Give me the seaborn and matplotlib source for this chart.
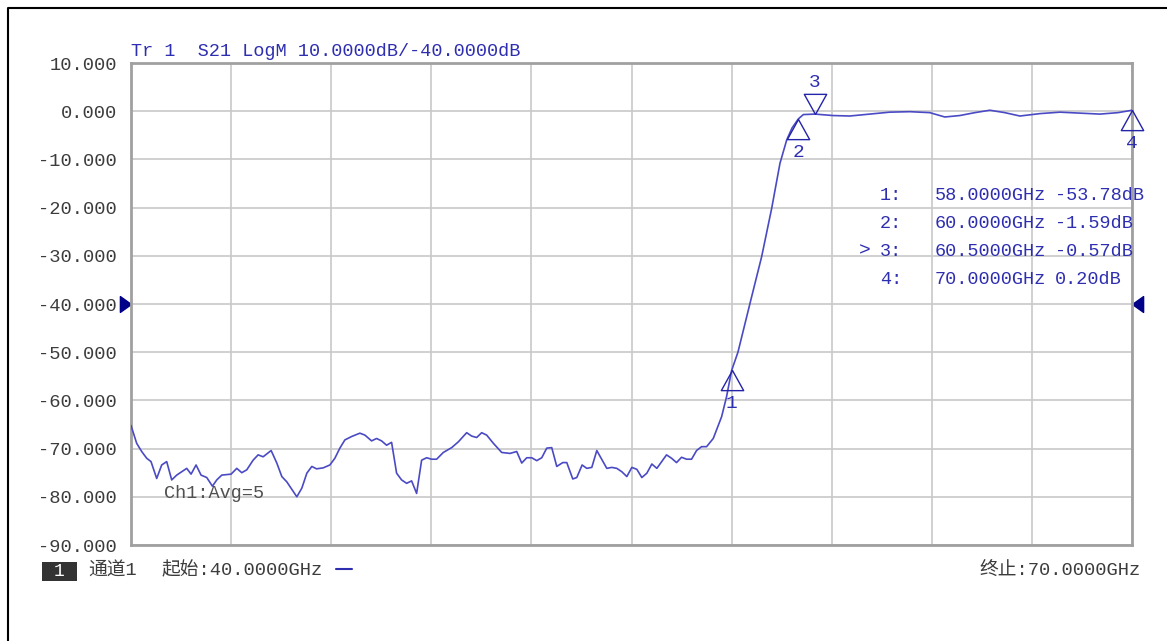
import numpy as np
import pandas as pd
import matplotlib
matplotlib.use('Agg')
import matplotlib.pyplot as plt
from matplotlib.path import Path
from matplotlib.markers import MarkerStyle
from matplotlib.lines import Line2D
from matplotlib.patches import Rectangle
import seaborn as sns

sns.set_style('white')
plt.rcParams['font.family'] = ['Liberation Mono', 'Noto Sans CJK SC', 'DejaVu Sans']

# trace (GHz, dB)
freq_ghz = [40.00, 40.17, 40.32, 40.47, 40.60, 40.77, 40.92, 41.07, 41.22, 41.37,
            41.52, 41.67, 41.80, 41.95, 42.10, 42.27, 42.44, 42.57, 42.72, 43.00,
            43.17, 43.32, 43.47, 43.66, 43.81, 43.96, 44.20, 44.37, 44.52, 44.67,
            44.97, 45.12, 45.27, 45.42, 45.56, 45.76, 45.96, 46.11, 46.26, 46.41,
            46.61, 46.86, 47.01, 47.21, 47.36, 47.51, 47.66, 47.81, 47.96, 48.11,
            48.26, 48.41, 48.56, 48.71, 48.86, 49.01, 49.16, 49.36, 49.61, 49.81,
            50.06, 50.21, 50.36, 50.51, 50.66, 50.86, 51.11, 51.36, 51.56, 51.71,
            51.86, 52.01, 52.16, 52.31, 52.46, 52.61, 52.76, 52.94, 53.06, 53.24,
            53.36, 53.52, 53.66, 53.81, 53.96, 54.26, 54.41, 54.56, 54.71, 54.86,
            55.01, 55.16, 55.31, 55.46, 55.61, 55.76, 56.05, 56.20, 56.35, 56.50,
            56.65, 56.80, 56.95, 57.10, 57.25, 57.45, 57.70, 57.85, 58.00, 58.19,
            58.55, 58.90, 59.20, 59.45, 59.65, 59.81, 60.00, 60.15, 60.50, 61.04,
            61.54, 62.14, 62.74, 63.34, 63.94, 64.39, 64.84, 65.29, 65.74, 66.19,
            66.64, 67.24, 67.84, 68.44, 69.04, 69.58, 70.00]
s21_db = [-65.2, -68.9, -70.6, -72.0, -72.7, -76.2, -73.4, -72.7, -76.5, -75.5,
          -74.8, -74.1, -75.3, -73.4, -75.5, -76.0, -77.8, -76.5, -75.5, -75.3,
          -74.1, -75.0, -74.4, -72.4, -71.3, -71.7, -70.4, -73.0, -75.8, -76.9,
          -80.0, -78.2, -75.1, -73.7, -74.2, -74.0, -73.4, -72.0, -69.9, -68.2,
          -67.5, -66.8, -67.2, -68.4, -67.9, -68.4, -69.3, -68.7, -75.1, -76.5,
          -77.2, -76.7, -79.3, -72.4, -71.9, -72.2, -72.2, -70.8, -69.8, -68.6,
          -66.7, -67.4, -67.7, -66.7, -67.2, -68.9, -70.8, -71.0, -70.6, -73.0,
          -71.9, -71.9, -72.5, -71.9, -69.9, -69.8, -73.7, -72.9, -72.9, -76.3,
          -76.0, -73.4, -74.1, -73.9, -70.4, -74.1, -73.9, -74.1, -74.8, -75.8,
          -73.9, -74.3, -76.0, -75.1, -73.2, -74.1, -71.3, -72.0, -72.9, -71.8,
          -72.2, -72.2, -70.4, -69.6, -69.6, -67.9, -63.4, -59.2, -53.8, -50.0,
          -39.9, -30.2, -20.2, -10.8, -6.0, -3.5, -1.6, -0.7, -0.6, -0.9,
          -1.0, -0.6, -0.2, -0.1, -0.3, -1.2, -0.9, -0.3, 0.2, -0.3,
          -1.0, -0.5, -0.2, -0.4, -0.6, -0.3, 0.2]

marker_ids = ['1', '2', '3', '4']
marker_freq = [58.0, 60.0, 60.5, 70.0]
marker_db = [-53.78, -1.59, -0.57, 0.20]
active_marker = '3'

y_ticks = [10, 0, -10, -20, -30, -40, -50, -60, -70, -80, -90]
x_ticks = [40, 43, 46, 49, 52, 55, 58, 61, 64, 67, 70]
ref_level = -40.0

title_text = 'Tr 1  S21 LogM 10.0000dB/-40.0000dB'
start_text = '起始:40.0000GHz'
stop_text = '终止:70.0000GHz'
channel_text = '通道1'
avg_text = 'Ch1:Avg=5'

W, H = 1167, 641
trace_blue = '#4a4ac4'
text_blue = '#2e2eb0'
text_gray = '#3c3c3c'

fig = plt.figure(figsize=(W / 100, H / 100), dpi=100)
ax = fig.add_axes([131 / W, 1 - 545 / H, (1132 - 131) / W, (545 - 63) / H])

df = pd.DataFrame({'freq': freq_ghz, 'db': s21_db})
sns.lineplot(data=df, x='freq', y='db', ax=ax, color=trace_blue, lw=1.2, zorder=3)

ax.set_xlim(40, 70)
ax.set_ylim(-90, 10)
ax.set_xticks(x_ticks)
ax.set_xticklabels([])
ax.set_yticks(y_ticks)
ax.set_yticklabels(['%.3f' % v for v in y_ticks], fontsize=13.5, color=text_gray)
ax.tick_params(axis='both', length=0, pad=10)
ax.grid(True, color='#c8c8c8', lw=1.2)
ax.set_xlabel('')
ax.set_ylabel('')
for sp in ax.spines.values():
    sp.set_color('#a0a0a0')
    sp.set_linewidth(2)

# markers: tip sits on the trace
up_tri = MarkerStyle(Path([(0, 0), (-1, -1.8), (1, -1.8), (0, 0)]))
down_tri = MarkerStyle(Path([(0, 0), (-1, 1.8), (1, 1.8), (0, 0)]))
for mid, mf, md in zip(marker_ids, marker_freq, marker_db):
    active = mid == active_marker
    ax.plot([mf], [md], marker=down_tri if active else up_tri, ms=29, mfc='none',
            mec='#2424a8', mew=1.0, ls='none', clip_on=False, zorder=4)
    ax.annotate(mid, (mf, md), xytext=(0, 23 if active else -24), textcoords='offset points',
                ha='center', va='center', fontsize=14, color=text_blue, annotation_clip=False)

# reference level arrows on both sides
ref_left = MarkerStyle(Path([(0, 0), (-1.4, 1), (-1.4, -1), (0, 0)]))
ref_right = MarkerStyle(Path([(0, 0), (1.4, 1), (1.4, -1), (0, 0)]))
ax.plot([40], [ref_level], marker=ref_left, ms=16, color='#000088', ls='none', clip_on=False)
ax.plot([70], [ref_level], marker=ref_right, ms=16, color='#000088', ls='none', clip_on=False)

def fx(px):
    return px / W

def fy(py):
    return 1 - py / H

fig.text(fx(131), fy(52), title_text, fontsize=13.3, color=text_blue, ha='left', va='center')

# marker readout table
rows_y = [195, 223, 251, 279]
for mid, mf, md, ry in zip(marker_ids, marker_freq, marker_db, rows_y):
    if mid == active_marker:
        fig.text(fx(859), fy(ry), '>', fontsize=14, color=text_blue, ha='left', va='center')
    fig.text(fx(880), fy(ry), mid + ':', fontsize=13.3, color=text_blue, ha='left', va='center')
    fig.text(fx(935), fy(ry), '%.4fGHz' % mf, fontsize=13.3, color=text_blue, ha='left', va='center')
    fig.text(fx(1055), fy(ry), '%.2fdB' % md, fontsize=13.3,
             color=text_blue, ha='left', va='center')

fig.text(fx(164), fy(493), avg_text, fontsize=13.3, color='#505050', ha='left', va='center')

# status bar
fig.patches.append(Rectangle((fx(42), fy(581)), fx(35), 19 / H, transform=fig.transFigure,
                             facecolor='#333333', edgecolor='none'))
fig.text(fx(59), fy(571), '1', fontsize=13, color='white', ha='center', va='center')
fig.text(fx(88), fy(571), channel_text, fontsize=13.5, color=text_gray, ha='left', va='center')
fig.text(fx(162), fy(571), start_text, fontsize=13.5, color=text_gray, ha='left', va='center')
fig.lines.append(Line2D([fx(336), fx(352)], [fy(569), fy(569)], transform=fig.transFigure,
                        color=text_blue, lw=1.5))
fig.text(fx(1141), fy(571), stop_text, fontsize=13.5, color=text_gray, ha='right', va='center')

# outer frame (left and top edges visible)
fig.lines.append(Line2D([fx(8), fx(8), 1.0], [0, fy(8), fy(8)], transform=fig.transFigure,
                        color='black', lw=1.5))

fig.savefig('out.png', dpi=100)
